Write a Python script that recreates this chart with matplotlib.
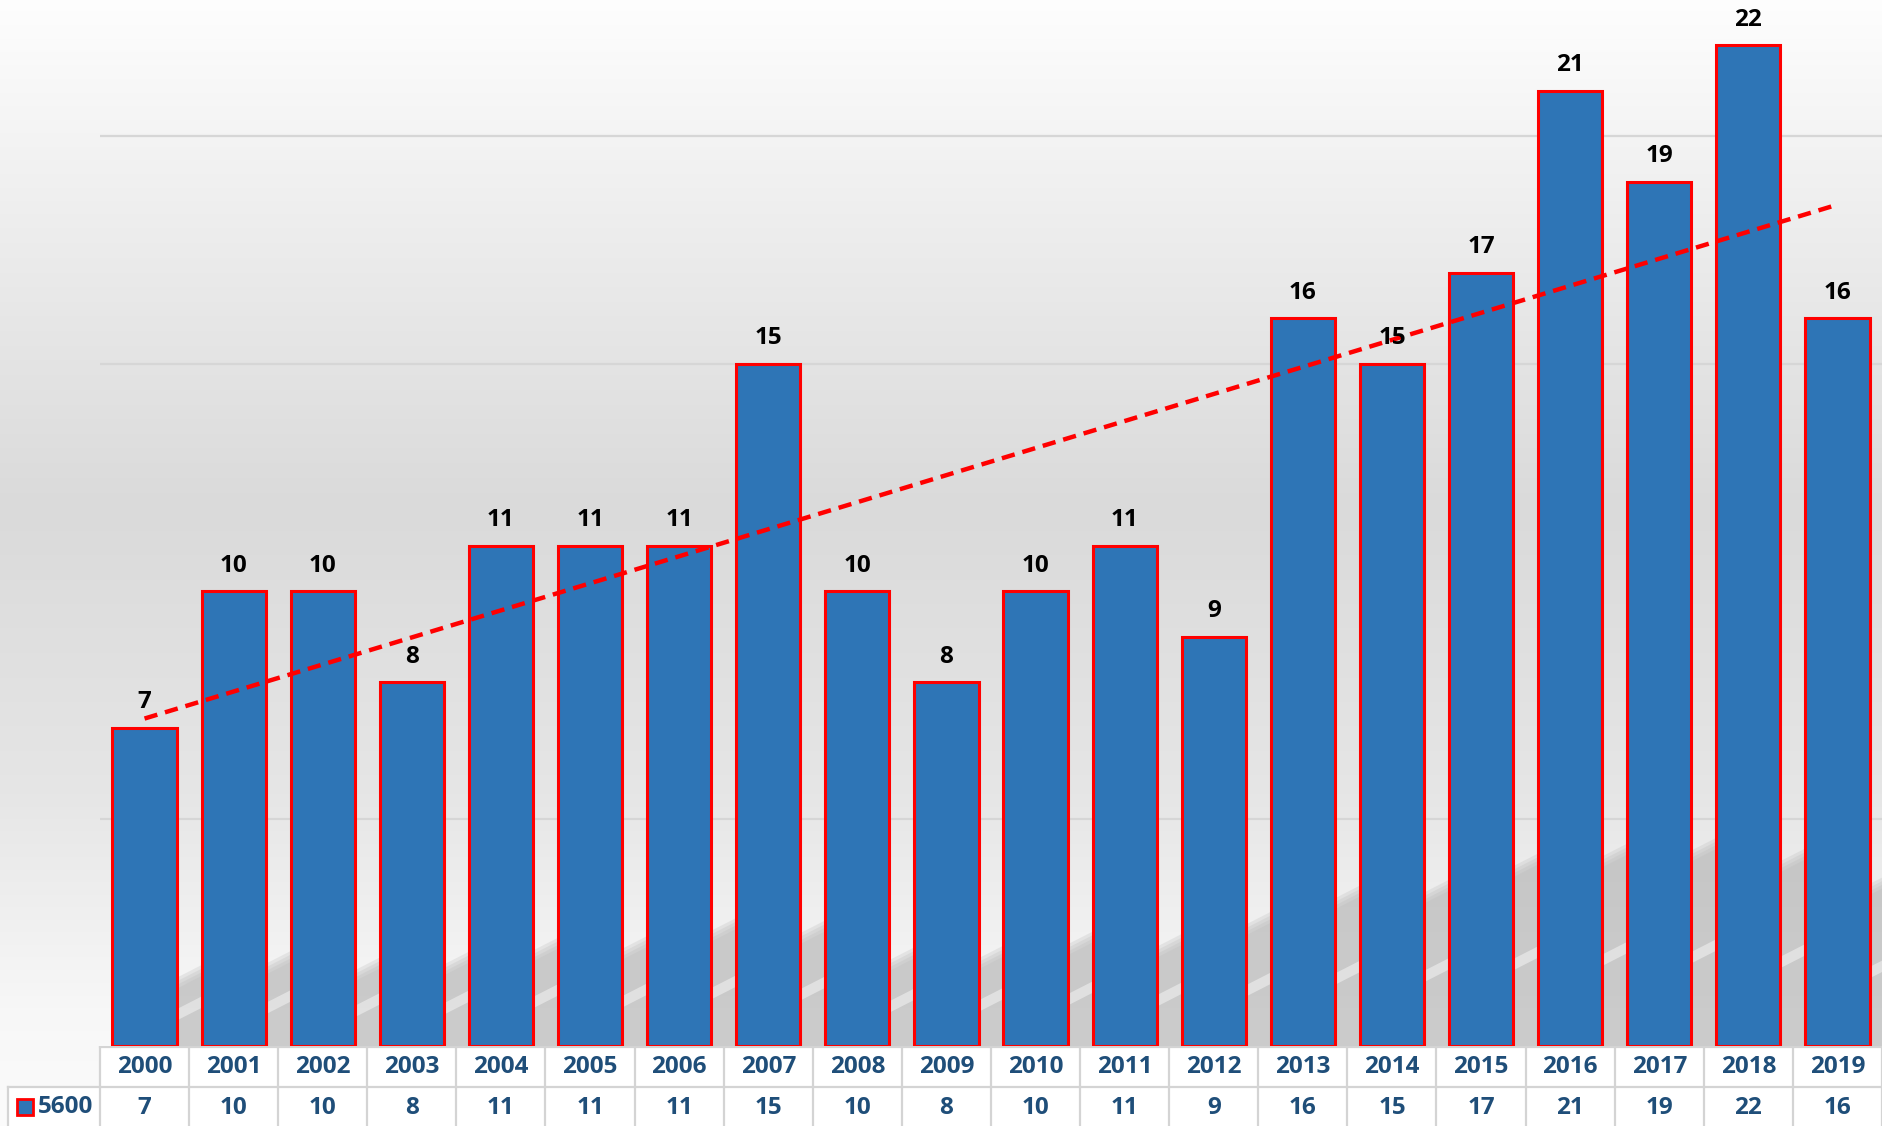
import numpy as np
import matplotlib
matplotlib.use("Agg")
import matplotlib.pyplot as plt
from matplotlib.patches import Rectangle, Polygon

years = ["2000", "2001", "2002", "2003", "2004", "2005", "2006", "2007", "2008", "2009",
         "2010", "2011", "2012", "2013", "2014", "2015", "2016", "2017", "2018", "2019"]
values = [7, 10, 10, 8, 11, 11, 11, 15, 10, 8, 10, 11, 9, 16, 15, 17, 21, 19, 22, 16]
series_name = "5600"
gridlines = [5, 15, 20]

W, H = 1882, 1126
fig = plt.figure(figsize=(W / 100, H / 100), dpi=100)

# background gradient
bg = fig.add_axes([0, 0, 1, 1], zorder=-10)
yy = np.linspace(0, 1, 400)  # 0 bottom, 1 top
pts_y = [0.0, 0.1, 0.3, 0.55, 0.8, 1.0]
pts_v = [0.985, 0.97, 0.90, 0.855, 0.93, 0.995]
shade = np.interp(yy, pts_y, pts_v)
img = np.repeat(shade[:, None], 2, axis=1)
bg.imshow(np.dstack([img, img, img]), origin="lower", aspect="auto", extent=[0, 1, 0, 1])
bg.set_axis_off()

left = 100 / W
base_y = 1046
ax = fig.add_axes([left, 1 - base_y / H, 1 - left, base_y / H])
ax.patch.set_alpha(0)
n = len(values)
x = np.arange(n)
bw = 0.72
ax.set_xlim(-0.5, n - 0.5)
ax.set_ylim(0, 23)
for g in gridlines:
    ax.axhline(g, color="#d6d6d6", lw=1.6, zorder=0)

# soft diagonal floor shadows between bars (decorative)
for i in range(n):
    xr = x[i] + bw / 2
    xn = x[i] + 1 - bw / 2 + 0.05
    nxt = values[i + 1] if i + 1 < n else values[i]
    h = 0.09 * (values[i] + nxt) + 0.25 * i / n * 3
    for k, a in zip([0.0, 0.08, 0.16, 0.24], [0.25, 0.25, 0.25, 0.25]):
        poly = Polygon([(xr - 0.02, 0), (xn, 0), (xn, h + 0.3 - k), (xr - 0.02, h - k - 0.05)],
                       closed=True, facecolor="#b8b8b8", edgecolor="none", alpha=a, zorder=1)
        ax.add_patch(poly)
    # light diagonal streak inside shadow
    s = h * 0.45
    poly = Polygon([(xr - 0.02, s - 0.15), (xn, s + 0.2), (xn, s + 0.45), (xr - 0.02, s + 0.1)],
                   closed=True, facecolor="#f0f0f0", edgecolor="none", alpha=0.6, zorder=1)
    ax.add_patch(poly)

ax.bar(x, values, width=bw, color="#2e75b6", edgecolor="#ff0000", linewidth=2.2, zorder=2)
for xi, v in zip(x, values):
    ax.text(xi, v + 0.3, str(v), ha="center", va="bottom", fontsize=17.5,
            fontweight="bold", family="Open Sans", color="black", zorder=4)
coef = np.polyfit(x, values, 1)
ax.plot([x[0], x[-1]], np.polyval(coef, [x[0], x[-1]]), color="#ff0000", lw=3.2,
        ls=(0, (3, 1.8)), zorder=3)
ax.set_axis_off()

# data table
tab = fig.add_axes([0, 0, 1, 1 - base_y / H], zorder=5)
tab.set_xlim(0, W)
tab.set_ylim(H, base_y)
tab.set_axis_off()
tab.patch.set_alpha(0)
colw = (W - 100) / n
row1_bot = 1087
lc = "#d4d4d4"
tab.add_patch(Rectangle((100, base_y), W - 100, H - base_y, facecolor="white", edgecolor="none", zorder=0))
tab.add_patch(Rectangle((8, row1_bot), 92, H - row1_bot, facecolor="white", edgecolor="none", zorder=0))
for i in range(n + 1):
    xx = 100 + i * colw
    tab.plot([xx, xx], [base_y, H], color=lc, lw=1.6, zorder=1)
tab.plot([100, W], [base_y + 1, base_y + 1], color=lc, lw=1.6)
tab.plot([8, W], [row1_bot, row1_bot], color=lc, lw=1.6)
tab.plot([8, 8], [row1_bot, H], color=lc, lw=1.6)
tc = "#1f4e79"
for i, (yr, v) in enumerate(zip(years, values)):
    cx = 100 + (i + 0.5) * colw
    tab.text(cx, 1067, yr, ha="center", va="center", fontsize=17.5, fontweight="bold",
             family="Open Sans", color=tc)
    tab.text(cx, 1108, str(v), ha="center", va="center", fontsize=17.5, fontweight="bold",
             family="Open Sans", color=tc)
tab.add_patch(Rectangle((17, 1099), 16, 16, facecolor="#2e75b6", edgecolor="#ff0000", lw=2))
tab.text(38, 1107, series_name, ha="left", va="center", fontsize=17.5, fontweight="bold",
         family="Open Sans", color=tc)

fig.savefig("out.png", dpi=100)
